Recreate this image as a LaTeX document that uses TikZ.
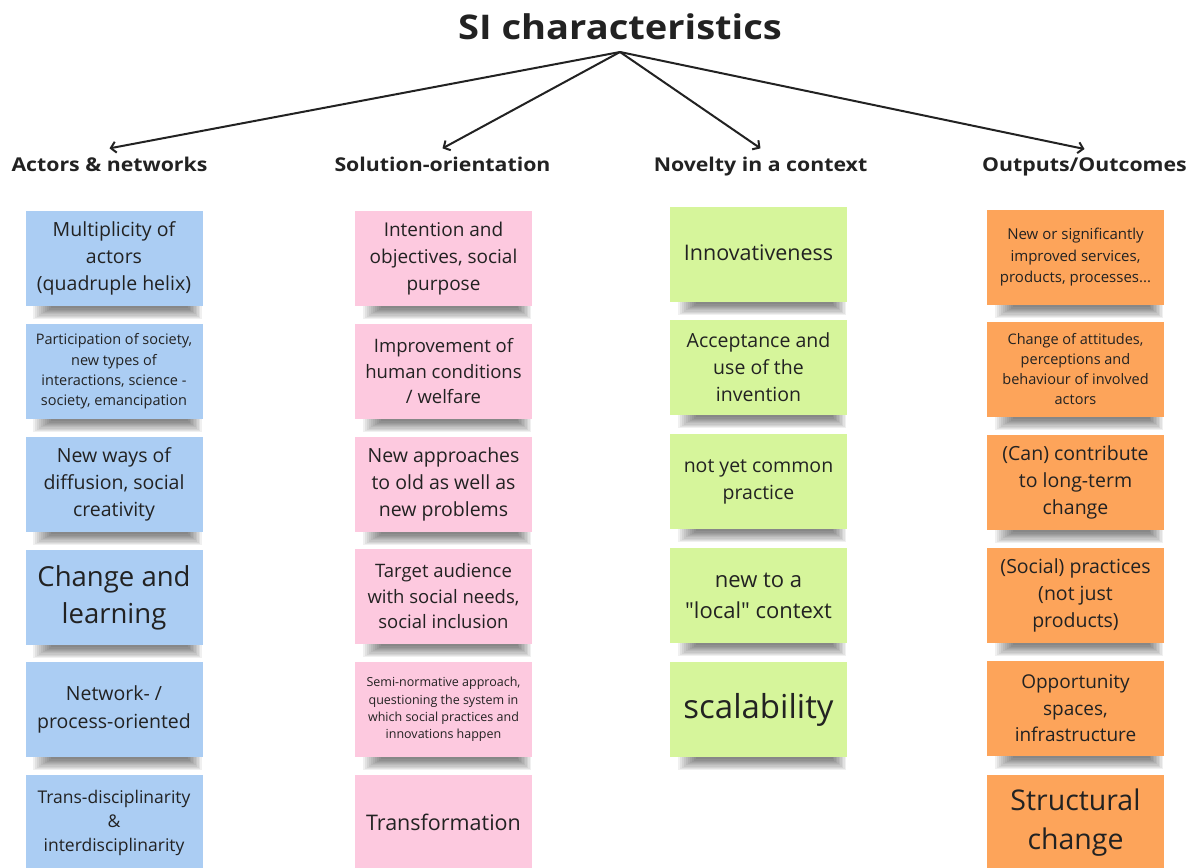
\documentclass[tikz,border=0pt]{standalone}
\usepackage{fontspec}
\setmainfont{Open Sans}
\usetikzlibrary{arrows.meta}

\definecolor{noteblue}{HTML}{ABCDF3}
\definecolor{notepink}{HTML}{FDC9DF}
\definecolor{notegreen}{HTML}{D6F59B}
\definecolor{noteorange}{HTML}{FDA45A}
\definecolor{ink}{HTML}{222222}

\newcommand\fs[2]{\fontsize{#1}{#2}\selectfont}
\newcommand\wide[1]{\scalebox{1.12}[1]{#1}}
\newcommand\straightq[1]{{\addfontfeatures{Ligatures=TeXOff}"#1"}}

\tikzset{
  note/.style={fill=#1, minimum width=177pt, minimum height=95pt,
    inner sep=0pt, text=ink, align=center},
  head/.style={font=\bfseries\fs{19}{23}, text=ink, anchor=base,
    inner ysep=8pt, inner xsep=0pt},
  branch/.style={line width=2pt, ink,
    -{Straight Barb[length=5pt,width=11pt]}},
  shadowstrip/.style={fill=black, opacity=0.06},
}

\begin{document}
\begin{tikzpicture}[x=1pt,y=-1pt]
\useasboundingbox[fill=white] (0,0) rectangle (1196,867);

% title and the four headings
\node[font=\bfseries\fs{34}{40}, text=ink, anchor=base] (title) at (620,40)
  {\wide{SI characteristics}};
\coordinate (hub) at (620,52);
\node[head] (h1) at (109.5,171) {\wide{Actors \& networks}};
\node[head] (h2) at (442.5,171) {\wide{Solution-orientation}};
\node[head] (h3) at (760.5,171) {\wide{Novelty in a context}};
\node[head] (h4) at (1084.5,171) {\wide{Outputs/Outcomes}};

\foreach \h in {h1,h2,h3,h4} {\draw[branch] (hub) -- (\h.north);}

% Actors & networks
\node[note=noteblue, font=\fs{19.5}{27}] (a1) at (114,258.5)
  {Multiplicity of\\actors\\(quadruple helix)};
\node[note=noteblue, font=\fs{14.5}{20.3}] (a2) at (114,371.5)
  {Participation of society,\\new types of\\interactions, science -\\society, emancipation};
\node[note=noteblue, font=\fs{19.5}{27}] (a3) at (114,484.5)
  {New ways of\\diffusion, social\\creativity};
\node[note=noteblue, font=\fs{27.5}{37}] (a4) at (114,597.5)
  {Change and\\learning};
\node[note=noteblue, font=\fs{19.5}{28}] (a5) at (114,709.5)
  {Network- /\\process-oriented};
\node[note=noteblue, font=\fs{17.5}{24}] (a6) at (114,822.5)
  {Trans-disciplinarity\\\&\\interdisciplinarity};

% Solution-orientation
\node[note=notepink, font=\fs{19}{27}] (s1) at (443.5,258.5)
  {Intention and\\objectives, social\\purpose};
\node[note=notepink, font=\fs{18.5}{25.5}] (s2) at (443.5,371.5)
  {Improvement of\\human conditions\\/ welfare};
\node[note=notepink, font=\fs{19.5}{27}] (s3) at (443.5,484.5)
  {New approaches\\to old as well as\\new problems};
\node[note=notepink, font=\fs{18.5}{25.5}] (s4) at (443.5,596.5)
  {Target audience\\with social needs,\\social inclusion};
\node[note=notepink, font=\fs{12.5}{17.3}] (s5) at (443.5,709.5)
  {Semi-normative approach,\\questioning the system in\\which social practices and\\innovations happen};
\node[note=notepink, font=\fs{21.5}{28}] (s6) at (443.5,822.5)
  {Transformation};

% Novelty in a context
\node[note=notegreen, font=\fs{21.5}{28}] (n1) at (758.5,254.5)
  {\raisebox{3pt}{Innovativeness}};
\node[note=notegreen, font=\fs{19.5}{27}] (n2) at (758.5,367.5)
  {Acceptance and\\use of the\\invention};
\node[note=notegreen, font=\fs{19.5}{27}] (n3) at (758.5,481.5)
  {not yet common\\practice};
\node[note=notegreen, font=\fs{22}{31}] (n4) at (758.5,595.5)
  {new to a\\\straightq{local} context};
\node[note=notegreen, font=\fs{33}{40}] (n5) at (758.5,709.5)
  {scalability};

% Outputs/Outcomes
\node[note=noteorange, font=\fs{15}{21.5}] (o1) at (1075.5,257.5)
  {New or significantly\\improved services,\\products, processes...};
\node[note=noteorange, font=\fs{14.5}{20}] (o2) at (1075.5,369.5)
  {Change of attitudes,\\perceptions and\\behaviour of involved\\actors};
\node[note=noteorange, font=\fs{19.5}{27}] (o3) at (1075.5,482.5)
  {(Can) contribute\\to long-term\\change};
\node[note=noteorange, font=\fs{19.5}{27}] (o4) at (1075.5,595.5)
  {(Social) practices\\(not just\\products)};
\node[note=noteorange, font=\fs{19}{26.5}] (o5) at (1075.5,708.5)
  {Opportunity\\spaces,\\infrastructure};
\node[note=noteorange, font=\fs{28.5}{39}] (o6) at (1075.5,822.5)
  {Structural\\change};

% soft shadows under the notes: stacked translucent strips
\foreach \n in {a1,a2,a3,a4,a5,s1,s2,s3,s4,s5,n1,n2,n3,n4,n5,o1,o2,o3,o4,o5}
  {\foreach \k in {0,...,9}
     {\fill[shadowstrip]
        ([xshift=8pt+2pt*\k]\n.south west) rectangle
        ([xshift=-1pt-1.5pt*\k, yshift=-13pt+1.2pt*\k]\n.south east);}}
\end{tikzpicture}
\end{document}
